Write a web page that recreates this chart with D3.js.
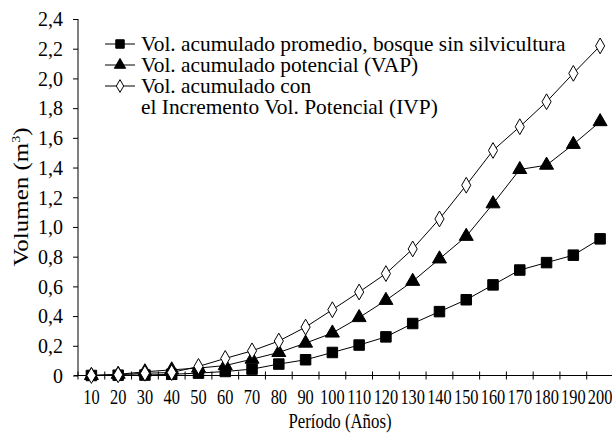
<!DOCTYPE html>
<html>
<head>
<meta charset="utf-8">
<script src="https://cdn.jsdelivr.net/npm/d3@7"></script>
<style>
  body { margin: 0; background: #fff; }
</style>
</head>
<body>
<div id="chart"></div>
<script>
// años del periodo
var periodos = [10, 20, 30, 40, 50, 60, 70, 80, 90, 100, 110, 120, 130, 140, 150, 160, 170, 180, 190, 200];

// volumen acumulado promedio, bosque sin silvicultura
var volPromedio = [0, 0.002, 0.003, 0.008, 0.016, 0.027, 0.043, 0.077, 0.106, 0.155, 0.205, 0.26, 0.35, 0.43, 0.51, 0.61, 0.71, 0.76, 0.81, 0.92];
// volumen acumulado potencial (VAP)
var volPotencial = [0, 0.008, 0.025, 0.038, 0.05, 0.067, 0.11, 0.155, 0.218, 0.286, 0.39, 0.506, 0.634, 0.785, 0.937, 1.156, 1.387, 1.416, 1.556, 1.709];
// volumen acumulado con IVP
var volIVP = [0, 0.005, 0.015, 0.02, 0.061, 0.115, 0.166, 0.232, 0.326, 0.443, 0.562, 0.686, 0.852, 1.054, 1.281, 1.515, 1.675, 1.843, 2.034, 2.219];

var yTicks = [0, 0.2, 0.4, 0.6, 0.8, 1.0, 1.2, 1.4, 1.6, 1.8, 2.0, 2.2, 2.4];

var legendLabels = [
  ["Vol. acumulado promedio, bosque sin silvicultura"],
  ["Vol. acumulado potencial (VAP)"],
  ["Vol. acumulado con", "el Incremento Vol. Potencial (IVP)"]
];

var width = 612, height = 438;
var serif = "Liberation Serif, Times New Roman, serif";

var svg = d3.select("#chart").append("svg")
    .attr("width", width)
    .attr("height", height)
    .attr("font-family", serif);

var x = d3.scaleBand()
    .domain(periodos)
    .range([78, 612 + 1.5]);

var y = d3.scaleLinear()
    .domain([0, 2.4])
    .range([375.5, 19]);

// eje y
var yAxis = svg.append("g")
    .attr("transform", "translate(78,0)")
    .call(d3.axisLeft(y)
        .tickValues(yTicks)
        .tickSize(5)
        .tickPadding(10)
        .tickFormat(function(d) { return d === 0 ? "0" : d3.format(".1f")(d).replace(".", ","); }));

yAxis.attr("font-family", serif).attr("font-size", 20);
yAxis.select(".domain").attr("d", "M0," + y(2.4) + "V" + y(0));
yAxis.selectAll("text").attr("fill", "#000").attr("dy", "0.34em");
yAxis.selectAll("line").attr("stroke", "#000");

// eje x, marcas entre categorias
var bounds = periodos.map(function(d) { return x(d); }).concat([x(200) + x.bandwidth()]);

var xg = svg.append("g").attr("transform", "translate(0," + y(0) + ")");
xg.append("line")
    .attr("x1", 74).attr("x2", width)
    .attr("stroke", "#000");
xg.selectAll(".tk")
    .data(bounds)
    .enter().append("line")
    .attr("x1", function(d) { return d; })
    .attr("x2", function(d) { return d; })
    .attr("y1", -4).attr("y2", 4)
    .attr("stroke", "#000");
xg.selectAll(".lbl")
    .data(periodos)
    .enter().append("text")
    .attr("transform", function(d) { return "translate(" + (x(d) + x.bandwidth() / 2) + ",0) scale(0.78,1)"; })
    .attr("y", 29)
    .attr("text-anchor", "middle")
    .attr("font-size", 21)
    .text(function(d) { return d; });

// titulos
svg.append("text")
    .attr("transform", "translate(340,428) scale(0.8,1)")
    .attr("text-anchor", "middle")
    .attr("font-size", 21)
    .text("Período (Años)");

var yt = svg.append("text")
    .attr("transform", "translate(28,197) rotate(-90) scale(1,0.85)")
    .attr("text-anchor", "middle")
    .attr("font-size", 25);
yt.append("tspan").text("Volumen (m");
yt.append("tspan").attr("font-size", 14).attr("dy", -9).text("3");
yt.append("tspan").attr("dy", 9).text(")");

// series
var series = [
  { values: volPromedio, shape: d3.symbolSquare, size: 110, fill: "#000" },
  { values: volPotencial, shape: d3.symbolTriangle, size: 85, fill: "#000" },
  { values: volIVP, shape: d3.symbolDiamond, size: 72, fill: "#fff" }
];

var cx = function(i) { return x(periodos[i]) + x.bandwidth() / 2; };

var line = d3.line()
    .x(function(d, i) { return cx(i); })
    .y(function(d) { return y(d); });

series.forEach(function(s) {
  svg.append("path")
      .attr("d", line(s.values))
      .attr("fill", "none")
      .attr("stroke", "#000")
      .attr("stroke-width", 1);

  svg.selectAll(null)
      .data(s.values)
      .enter().append("path")
      .attr("d", d3.symbol().type(s.shape).size(s.size))
      .attr("transform", function(d, i) { return "translate(" + cx(i) + "," + y(d) + ")"; })
      .attr("fill", s.fill)
      .attr("stroke", "#000")
      .attr("stroke-width", 1);
});

// leyenda
var lg = svg.append("g");
var rowY = [44, 65, 86];
series.forEach(function(s, i) {
  var g = lg.append("g").attr("transform", "translate(0," + rowY[i] + ")");
  g.append("line").attr("x1", 105).attr("x2", 135).attr("stroke", "#000");
  g.append("path")
      .attr("d", d3.symbol().type(s.shape).size(s.size * 0.65))
      .attr("transform", "translate(120,0)")
      .attr("fill", s.fill)
      .attr("stroke", "#000");
  legendLabels[i].forEach(function(t, j) {
    g.append("text")
        .attr("x", 141)
        .attr("y", j * 21 + 7)
        .attr("font-size", 21.4)
        .text(t);
  });
});
</script>
</body>
</html>
